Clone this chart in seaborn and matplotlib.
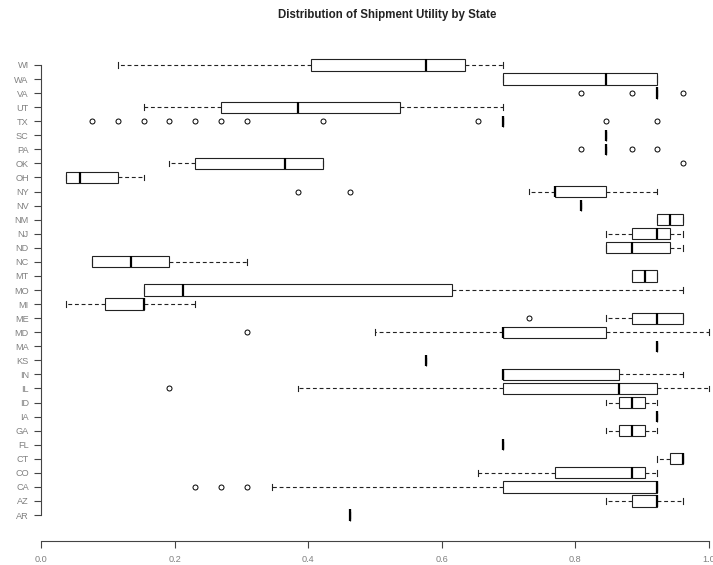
import matplotlib
matplotlib.use("Agg")
import matplotlib.pyplot as plt
import seaborn as sns
import pandas as pd

# States, listed top to bottom as in the chart
states = ["WI", "WA", "VA", "UT", "TX", "SC", "PA", "OK", "OH", "NY", "NV",
          "NM", "NJ", "ND", "NC", "MT", "MO", "MI", "ME", "MD", "MA", "KS",
          "IN", "IL", "ID", "IA", "GA", "FL", "CT", "CO", "CA", "AZ", "AR"]

wi = [0.115, 0.404, 0.577, 0.635, 0.692]
wa = [0.692, 0.692, 0.846, 0.923, 0.923]
va = [0.808, 0.885, 0.923, 0.923, 0.923, 0.923, 0.923, 0.923, 0.962]
ut = [0.154, 0.269, 0.385, 0.538, 0.692]
tx = [0.077, 0.115, 0.154, 0.192, 0.231, 0.269, 0.308, 0.423, 0.654] + [0.692] * 30 + [0.846, 0.923]
sc = [0.846]
pa = [0.808, 0.846, 0.846, 0.846, 0.846, 0.846, 0.846, 0.885, 0.923]
ok = [0.192, 0.231, 0.231, 0.308, 0.365, 0.423, 0.423, 0.423, 0.962]
oh = [0.038, 0.038, 0.058, 0.115, 0.154]
ny = [0.385, 0.462, 0.731, 0.769, 0.769, 0.769, 0.769, 0.808, 0.846, 0.846, 0.846, 0.923, 0.923]
nv = [0.808]
nm = [0.923, 0.923, 0.942, 0.962, 0.962]
nj = [0.846, 0.885, 0.923, 0.942, 0.962]
nd = [0.846, 0.846, 0.885, 0.942, 0.962]
nc = [0.077, 0.077, 0.135, 0.192, 0.308]
mt = [0.885, 0.885, 0.904, 0.923, 0.923]
mo = [0.154, 0.154, 0.212, 0.615, 0.962]
mi = [0.038, 0.096, 0.154, 0.154, 0.231]
me = [0.731, 0.846, 0.885, 0.885, 0.923, 0.962, 0.962, 0.962, 0.962]
md = [0.308, 0.5, 0.692, 0.692, 0.692, 0.769, 0.846, 0.923, 1.0]
ma = [0.923]
ks = [0.577]
in_ = [0.692, 0.692, 0.692, 0.865, 0.962]
il = [0.192, 0.385, 0.692, 0.769, 0.865, 0.885, 0.923, 0.962, 1.0]
id_ = [0.846, 0.865, 0.885, 0.904, 0.923]
ia = [0.923]
ga = [0.846, 0.865, 0.885, 0.904, 0.923]
fl = [0.692]
ct = [0.923, 0.942, 0.962, 0.962, 0.962]
co = [0.654, 0.769, 0.885, 0.904, 0.923]
ca = [0.231, 0.269, 0.308, 0.346, 0.692, 0.769, 0.846, 0.885] + [0.923] * 9
az = [0.846, 0.885, 0.923, 0.923, 0.962]
ar = [0.462]

values = [wi, wa, va, ut, tx, sc, pa, ok, oh, ny, nv, nm, nj, nd, nc, mt, mo,
          mi, me, md, ma, ks, in_, il, id_, ia, ga, fl, ct, co, ca, az, ar]

x_ticks = [0.0, 0.2, 0.4, 0.6, 0.8, 1.0]
x_tick_labels = ["0.0", "0.2", "0.4", "0.6", "0.8", "1.0"]
title = "Distribution of Shipment Utility by State"

rows = []
for st, vals in zip(states, values):
    for v in vals:
        rows.append({"state": st, "utility": v})
df = pd.DataFrame(rows)

plt.rcParams["font.family"] = ["Liberation Sans", "DejaVu Sans"]

W, H = 713, 565
fig = plt.figure(figsize=(W / 100, H / 100), dpi=100)
fig.patch.set_facecolor("white")
left_px, right_px, top_px, bottom_px = 41, 734.5, 39.4, 540.6
ax = fig.add_axes([left_px / W, (H - bottom_px) / H,
                   (right_px - left_px) / W, (bottom_px - top_px) / H])

edge = "#222222"
sns.boxplot(
    data=df, x="utility", y="state", order=states, orient="h",
    color="white", linecolor=edge, linewidth=0.8, width=0.8, whis=1.6,
    ax=ax,
    boxprops={"facecolor": "white", "edgecolor": edge, "linewidth": 0.8},
    medianprops={"color": "black", "linewidth": 1.6},
    whiskerprops={"color": edge, "linewidth": 0.8, "linestyle": (0, (3.5, 2.5))},
    capprops={"color": edge, "linewidth": 0.8},
    flierprops={"marker": "o", "markersize": 3.6, "markerfacecolor": "none",
                "markeredgecolor": "black", "markeredgewidth": 0.7},
)

n = len(states)
ax.set_xlim(0, 1.0385)
ax.set_ylim(n - 1 + 1.82, -1.82)
ax.set_xlabel("")
ax.set_ylabel("")
ax.set_facecolor("white")
ax.grid(False)

for s in ["top", "right"]:
    ax.spines[s].set_visible(False)
for s in ["left", "bottom"]:
    ax.spines[s].set_color("#444444")
    ax.spines[s].set_linewidth(0.8)
ax.spines["left"].set_bounds(0, n - 1)
ax.spines["bottom"].set_bounds(0, 1.0)

ax.set_xticks(x_ticks)
ax.set_xticklabels(x_tick_labels)
ax.set_yticks(range(n))
ax.set_yticklabels(states)
ax.tick_params(axis="both", colors="#444444", labelcolor="#808080",
               labelsize=6.6, length=5, width=0.8)
ax.tick_params(axis="y", pad=3.8)
ax.tick_params(axis="x", pad=5.4)

fig.text(387.5 / W, 1 - 18.3 / H, title, ha="center", va="baseline",
         fontsize=8.3, fontweight="bold", color="#222222")

fig.savefig("out.png", dpi=100, facecolor="white")
